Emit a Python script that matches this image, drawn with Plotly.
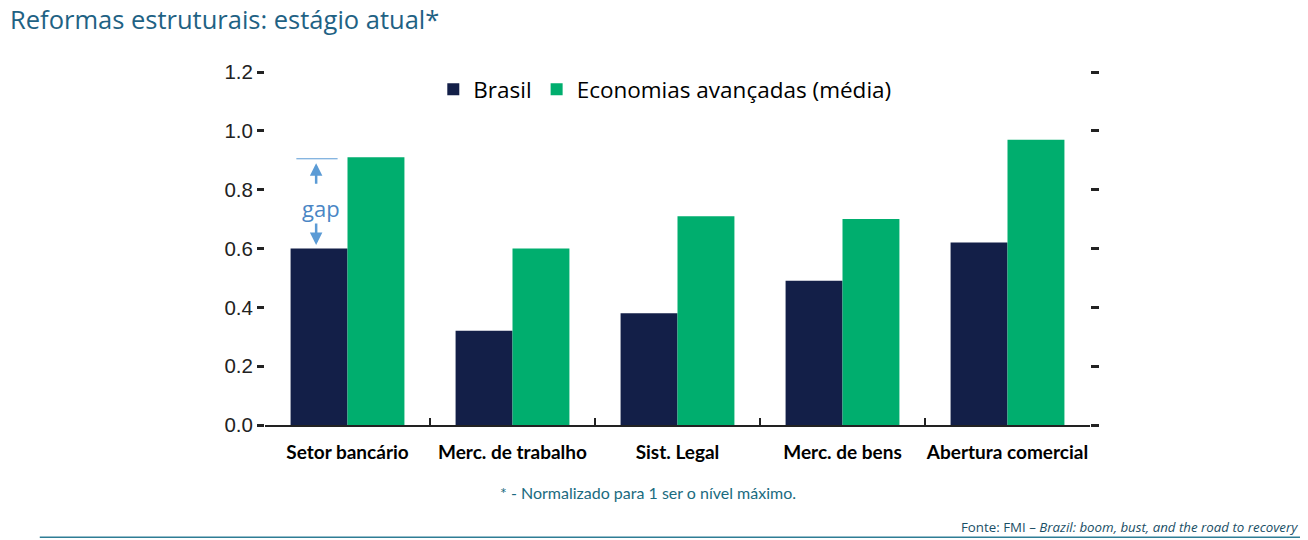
import plotly.graph_objects as go

# dados (normalizados, 1 = nível máximo)
categorias = ["Setor bancário", "Merc. de trabalho", "Sist. Legal",
              "Merc. de bens", "Abertura comercial"]
brasil = [0.60, 0.32, 0.38, 0.49, 0.62]
avancadas = [0.91, 0.60, 0.71, 0.70, 0.97]
y_ticks = [0.0, 0.2, 0.4, 0.6, 0.8, 1.0, 1.2]
y_labels = ["0.0", "0.2", "0.4", "0.6", "0.8", "1.0", "1.2"]

AZUL = "#131F48"
VERDE = "#00AE6E"
TEAL = "#1F6284"
GAP = "#5B9BD5"

fig = go.Figure()
fig.add_bar(x=categorias, y=brasil, name="Brasil",
            marker=dict(color=AZUL, line_width=0))
fig.add_bar(x=categorias, y=avancadas, name="Economias avançadas (média)",
            marker=dict(color=VERDE, line_width=0))
# eixo da direita, só com as marcas
fig.add_scatter(x=categorias, y=[None] * len(categorias), yaxis="y2",
                showlegend=False, hoverinfo="skip")

fig.update_layout(
    width=1300, height=532,
    margin=dict(l=257, r=218, t=64, b=115, autoexpand=False),
    paper_bgcolor="white", plot_bgcolor="white",
    barmode="group", bargap=0.31, bargroupgap=0,
    font=dict(family="Liberation Sans", color="#222"),
    legend=dict(orientation="h", x=0.204, y=0.95, xanchor="left",
                yanchor="middle", font=dict(family="Open Sans", size=22.5,
                                            color="black"),
                traceorder="normal", itemwidth=30),
    xaxis=dict(showline=True, linecolor="#222", linewidth=2,
               ticks="inside", tickson="boundaries", ticklen=7,
               tickwidth=2, tickcolor="#222", tickangle=0, automargin=False,
               ticklabelstandoff=9,
               tickfont=dict(family="Lato", size=19, color="black",
                             weight="bold"),
               showgrid=False),
    yaxis=dict(range=[0, 1.2], tickvals=y_ticks, ticktext=y_labels,
               ticks="outside", ticklen=7, tickwidth=2.5, tickcolor="#222",
               showgrid=False, zeroline=False, showline=False,
               automargin=False,
               tickfont=dict(family="Liberation Sans", size=20.5, color="#222")),
    yaxis2=dict(range=[0, 1.2], tickvals=y_ticks, overlaying="y",
                side="right", ticks="outside", ticklen=8, tickwidth=2.5,
                tickcolor="#222", showticklabels=False, showgrid=False,
                zeroline=False, showline=False, automargin=False),
)

# título
fig.add_annotation(x=0, y=1, xref="paper", yref="paper",
                   text="Reformas estruturais: estágio atual*",
                   xshift=-257, yshift=53, xanchor="left", yanchor="middle",
                   showarrow=False,
                   font=dict(family="Open Sans", size=25.5, color=TEAL))

# indicação do "gap" no setor bancário
fig.add_shape(type="line", xref="x", yref="y", x0=-0.31, x1=-0.06,
              y0=0.905, y1=0.905, line=dict(color=GAP, width=1))
fig.add_annotation(x=-0.19, y=0.89, ax=-0.19, ay=0.815, xref="x", yref="y",
                   axref="x", ayref="y", text="", showarrow=True,
                   arrowhead=2, arrowsize=1, arrowwidth=2.5, arrowcolor=GAP)
fig.add_annotation(x=-0.19, y=0.612, ax=-0.19, ay=0.69, xref="x", yref="y",
                   axref="x", ayref="y", text="", showarrow=True,
                   arrowhead=2, arrowsize=1, arrowwidth=2.5, arrowcolor=GAP)
fig.add_annotation(x=-0.16, y=0.738, xref="x", yref="y", text="gap",
                   showarrow=False,
                   font=dict(family="Open Sans", size=22, color="#4A86C5"))

# nota e fonte
fig.add_annotation(x=0.464, y=-0.19, xref="paper", yref="paper",
                   text="* - Normalizado para 1 ser o nível máximo.",
                   showarrow=False, yanchor="middle",
                   font=dict(family="Lato", size=16, color="#1A6B80"))
fig.add_annotation(x=1.0, y=-0.29, xref="paper", yref="paper",
                   xshift=210, xanchor="right", yanchor="middle",
                   showarrow=False,
                   text="Fonte: FMI – <i>Brazil: boom, bust, and the road to recovery</i>",
                   font=dict(family="Open Sans", size=13.3, color="#1A4F66"))
fig.add_shape(type="line", xref="paper", yref="paper", x0=-0.273, x1=1.269,
              y0=-0.318, y1=-0.318, line=dict(color="#2E7D95", width=1.5))

fig.write_html("out.html")
